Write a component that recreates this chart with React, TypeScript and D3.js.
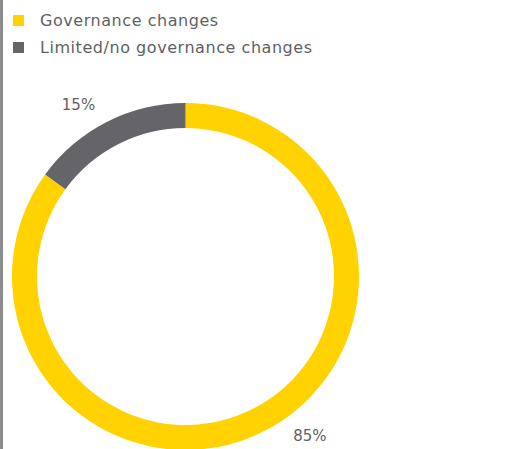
import React from "react";
import * as d3 from "d3";

const categories = ["Governance changes", "Limited/no governance changes"];
const values = [85, 15];
const labels = ["85%", "15%"];
const colors = ["#FFD200", "#646469"];
const labelShiftDeg = [-11, -5];

export default function App() {
  const W = 512, H = 449;
  const cx = 185.5, cy = 276.5;
  const outerR = 173.5, innerR = 148.5;
  const pie = d3.pie<number>().sort(null).startAngle(0).endAngle(2 * Math.PI)(values);
  const arc = d3.arc<d3.PieArcDatum<number>>().innerRadius(innerR).outerRadius(outerR);
  const labelR = 202;
  return (
    <svg width={W} height={H} style={{ position: "absolute", left: 0, top: 0, background: "#fff" }}
      fontFamily="'DejaVu Sans', sans-serif">
      <rect x={0} y={0} width={3} height={H} fill="#8c8c8c" />
      {categories.map((c, i) => (
        <g key={c} transform={`translate(0, ${i * 27})`}>
          <rect x={13} y={15} width={11} height={11} fill={colors[i]} />
          <text x={40} y={26} fontSize={16} letterSpacing={0.55} fill="#5f5f64">{c}</text>
        </g>
      ))}
      <g transform={`translate(${cx},${cy})`}>
        {pie.map((d, i) => (
          <path key={i} d={arc(d) || ""} fill={colors[i]} />
        ))}
        {pie.map((d, i) => {
          const a = (d.startAngle + d.endAngle) / 2 + (labelShiftDeg[i] * Math.PI) / 180;
          return (
            <text key={"l" + i} x={labelR * Math.sin(a)} y={-labelR * Math.cos(a) + 5} fontSize={15}
              textAnchor="middle" fill="#5f5f64">{labels[i]}</text>
          );
        })}
      </g>
    </svg>
  );
}
